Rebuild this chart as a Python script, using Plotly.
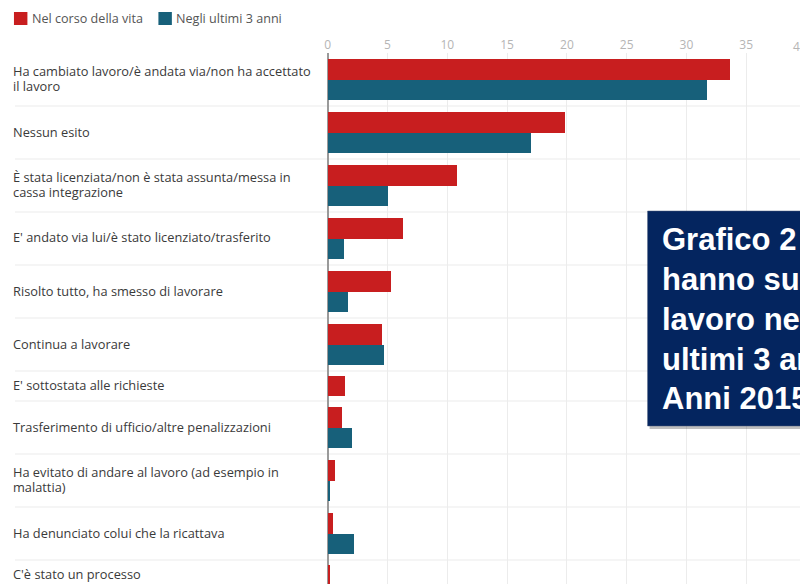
import plotly.graph_objects as go

# ---------------- data ----------------
categories = [
    "Ha cambiato lavoro/è andata via/non ha accettato<br>il lavoro",
    "Nessun esito",
    "È stata licenziata/non è stata assunta/messa in<br>cassa integrazione",
    "E' andato via lui/è stato licenziato/trasferito",
    "Risolto tutto, ha smesso di lavorare",
    "Continua a lavorare",
    "E' sottostata alle richieste",
    "Trasferimento di ufficio/altre penalizzazioni",
    "Ha evitato di andare al lavoro (ad esempio in<br>malattia)",
    "Ha denunciato colui che la ricattava",
    "C'è stato un processo",
]
series_names = ["Nel corso della vita", "Negli ultimi 3 anni"]
vita = [33.6, 19.8, 10.8, 6.3, 5.3, 4.5, 1.4, 1.2, 0.6, 0.4, 0.1]
ultimi3 = [31.7, 17.0, 5.0, 1.3, 1.7, 4.7, None, 2.0, 0.15, 2.2, None]
tick_values = [0, 5, 10, 15, 20, 25, 30, 35, 40]
title_lines = [
    "Grafico 2 - Donne che",
    "hanno subito ricatti sessuali",
    "lavoro nel corso della vita e negli",
    "ultimi 3 anni per esito.",
    "Anni 2015-2016",
]

# ---------------- style ----------------
W, H = 800, 584
TOP = 53
X0_PX = 326
PX_PER_UNIT = 12.0
RED = "#c81e1f"
BLUE = "#17607a"
SLOT, GAP, BAR = 23, 7, 20.7
FONT = "Open Sans, Roboto, Arial, sans-serif"
LABEL_SIZE = 12.8
LINE_H = 14.5


def px(x):
    return x / W


def py(y):
    return (H - y) / (H - TOP)


# compute row geometry (pixel units) from the data
rows = []
y = TOP
for v1, v2 in zip(vita, ultimi3):
    present = [s for s, v in enumerate((v1, v2)) if v is not None]
    h = len(present) * SLOT + GAP
    block = len(present) * BAR
    top = y + (h - block) / 2
    centers = {s: top + BAR * (k + 0.5) for k, s in enumerate(present)}
    rows.append(dict(start=y, end=y + h, center=y + h / 2, centers=centers))
    y += h

fig = go.Figure()
for s, (vals, col) in enumerate(((vita, RED), (ultimi3, BLUE))):
    xs, ys = [], []
    for r, v in zip(rows, vals):
        if v is None:
            continue
        xs.append(v)
        ys.append(r["centers"][s])
    fig.add_trace(go.Bar(
        x=xs, y=ys, orientation="h", width=BAR, name=series_names[s],
        marker=dict(color=col, line=dict(width=0)), showlegend=False,
    ))

shapes = []
annotations = []

# row separators
for r in rows[:-1]:
    shapes.append(dict(type="line", xref="paper", yref="paper",
                       x0=px(12), x1=1, y0=py(r["end"]), y1=py(r["end"]),
                       line=dict(color="#ebebeb", width=1), layer="below"))

# category labels (one annotation per text line, for exact line spacing)
for r, c in zip(rows, categories):
    lines = c.split("<br>")
    first = r["center"] - 1 - (len(lines) - 1) * LINE_H / 2
    for k, ln in enumerate(lines):
        annotations.append(dict(xref="paper", yref="paper", x=px(9),
                                y=py(first + k * LINE_H), borderpad=0,
                                xanchor="left", yanchor="middle", align="left",
                                text=ln, showarrow=False,
                                font=dict(family=FONT, size=LABEL_SIZE, color="#3a3a3a")))

# last tick label (partly cut by the edge)
annotations.append(dict(xref="paper", yref="paper",
                        x=px(X0_PX + tick_values[-1] * PX_PER_UNIT - 6), y=py(46),
                        xanchor="center", yanchor="middle", text=str(tick_values[-1]),
                        showarrow=False, font=dict(family=FONT, size=12, color="#b5b5b5")))

# legend (manual)
leg_x = [11, 156]
for (lx, name, col) in zip(leg_x, series_names, (RED, BLUE)):
    shapes.append(dict(type="rect", xref="paper", yref="paper",
                       x0=px(lx), x1=px(lx + 13.5), y0=py(12), y1=py(25),
                       fillcolor=col, line=dict(width=0)))
    annotations.append(dict(xref="paper", yref="paper", x=px(lx + 16), y=py(18.5),
                            xanchor="left", yanchor="middle", text=name, showarrow=False,
                            font=dict(family=FONT, size=12.6, color="#555555")))

# title box overlay (with shadow)
shapes.append(dict(type="rect", xref="paper", yref="paper",
                   x0=px(649), x1=px(812), y0=py(214), y1=py(429),
                   fillcolor="rgba(0,0,0,0.25)", line=dict(width=0)))
shapes.append(dict(type="rect", xref="paper", yref="paper",
                   x0=px(647), x1=px(812), y0=py(211), y1=py(426),
                   fillcolor="#04255f", line=dict(color="#4a5a7a", width=0.5)))
for i, t in enumerate(title_lines):
    annotations.append(dict(xref="paper", yref="paper", x=px(659), y=py(239 + 40 * i),
                            xanchor="left", yanchor="middle", text="<b>" + t + "</b>",
                            showarrow=False,
                            font=dict(family="Arial, Liberation Sans, sans-serif",
                                      size=31, color="#ffffff")))

fig.update_layout(
    width=W, height=H,
    margin=dict(l=0, r=0, t=TOP, b=0, pad=0),
    paper_bgcolor="white", plot_bgcolor="white",
    barmode="overlay", bargap=0,
    shapes=shapes, annotations=annotations,
    xaxis=dict(domain=[px(X0_PX), 1], range=[0, (W - X0_PX) / PX_PER_UNIT],
               side="top", tickvals=tick_values[:-1], ticks="", ticklabelstandoff=1,
               tickfont=dict(family=FONT, size=12, color="#b5b5b5"),
               showgrid=True, gridcolor="#ececec", gridwidth=1,
               zeroline=True, zerolinecolor="#9a9a9a", zerolinewidth=2,
               showline=False, fixedrange=True),
    yaxis=dict(range=[H, TOP], showticklabels=False, showgrid=False,
               zeroline=False, showline=False, fixedrange=True),
    showlegend=False,
)

fig.write_html(
    "out.html",
    config={"displayModeBar": False},
    post_script="document.body.style.margin='0px';document.body.style.overflow='hidden';",
)
